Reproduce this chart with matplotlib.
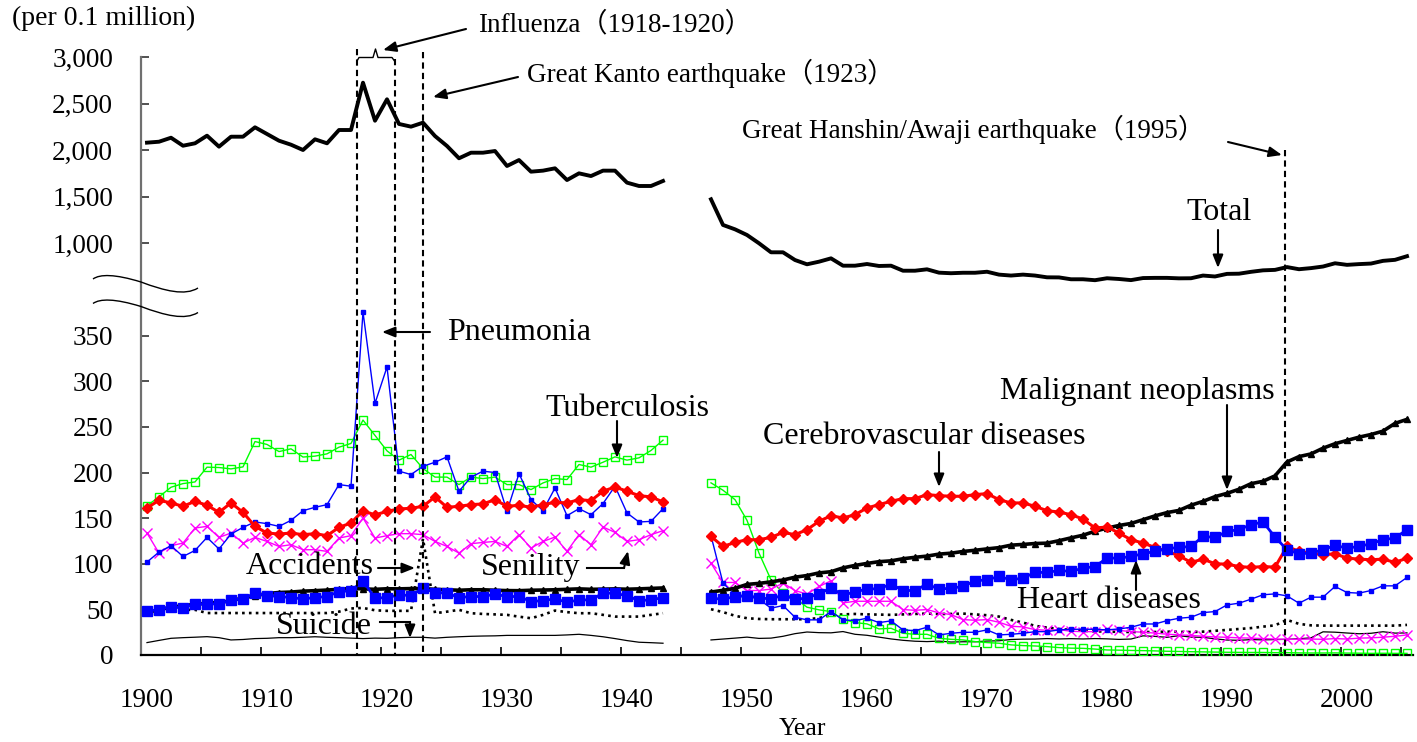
import numpy as np
import matplotlib
matplotlib.use('Agg')
import matplotlib.pyplot as plt
from matplotlib.lines import Line2D
from matplotlib.patches import FancyArrowPatch, PathPatch
from matplotlib.path import Path
from matplotlib import transforms

plt.rcParams['font.family'] = ['Liberation Serif', 'Noto Sans CJK JP']

# ---- data (per 100,000) ----
years_pre = list(range(1900, 1944))
years_post = list(range(1947, 2006))

total_pre = [2079, 2089, 2132, 2046, 2072, 2154, 2036, 2143, 2143, 2244,
             2172, 2100, 2057, 2000, 2115, 2072, 2215, 2215, 2724, 2315,
             2545, 2280, 2251, 2294, 2150, 2043, 1911, 1971, 1971, 1989,
             1828, 1892, 1767, 1778, 1803, 1677, 1749, 1720, 1778, 1778,
             1649, 1613, 1613, 1667]
total_post = [1470, 1194, 1147, 1086, 997, 900, 900, 817, 771, 799,
              835, 756, 756, 774, 753, 756, 702, 702, 717, 681,
              675, 680, 680, 691, 660, 650, 660, 650, 631, 630,
              610, 610, 600, 621, 613, 601, 623, 625, 625, 620,
              621, 650, 640, 668, 670, 690, 706, 711, 741, 718,
              730, 747, 782, 765, 773, 779, 808, 819, 858]

pneumonia_pre = [101.9, 112.8, 119.8, 108, 114.6, 128.9, 116.2, 132.6, 139.9, 145.8,
                 144, 141, 147.6, 158.2, 161.9, 164.8, 186.8, 185, 376, 275.8,
                 315.7, 201.5, 197.8, 206.9, 211.3, 217.2, 179.5, 195, 201.5, 200,
                 157.5, 198.9, 170.3, 158.2, 183.1, 152.7, 160.4, 153.8, 166, 185,
                 155.7, 145.8, 146.5, 160.4]
pneumonia_post = [130.8, 78.8, 66, 64.8, 61.1, 51.3, 54.2, 41.4, 38.5, 38.5,
                  47.6, 38.5, 37.7, 40.3, 35.5, 37.4, 27.5, 26.7, 30.4, 22,
                  23.8, 24.9, 24.9, 27.5, 22, 22.7, 23.8, 25.6, 25.6, 27.5,
                  28.2, 28.2, 28.2, 27.5, 28.6, 30.4, 34, 34, 37.7, 40.3,
                  41.4, 46.5, 47.6, 54.9, 56.8, 61.2, 66, 67, 64.8, 56.8,
                  63.4, 63.4, 75.1, 68.5, 67.8, 70.7, 75.8, 75.8, 85]

tb_pre = [163.7, 173.3, 183.9, 187.9, 189.7, 205.9, 205.5, 204, 206.2, 234,
          230.8, 223, 226, 217, 218, 220.5, 227.8, 231.9, 257.5, 240.7,
          223.8, 213.6, 219.8, 204.4, 195, 195, 186.8, 195, 193.4, 195,
          186.8, 186.8, 181.3, 188.6, 193.4, 192.3, 208.8, 205.9, 211.3, 217.2,
          213.6, 216.1, 224.2, 235.5]
tb_post = [188.7, 180.6, 170.3, 147.6, 111.7, 82.4, 67.8, 62.3, 52.4, 49.5,
           47.6, 39.2, 35.5, 34.1, 28.6, 29.3, 23.8, 22.7, 22.7, 18.3,
           17.2, 16.5, 14.7, 13.6, 12.9, 11.1, 10.3, 9.9, 9.2, 8.1,
           7.5, 7.3, 6.5, 5.5, 5.3, 5.0, 4.8, 4.5, 4.1, 3.9,
           3.6, 3.4, 3.2, 3.0, 2.9, 2.8, 2.8, 2.6, 2.6, 2.3,
           2.2, 2.2, 2.3, 2.1, 2.0, 1.8, 1.9, 1.8, 1.8]

cerebro_pre = [161.2, 169.6, 166.7, 163, 168.5, 164.1, 156.4, 166.7, 156.4, 141,
               133.7, 132.6, 133.7, 131.9, 133, 130.8, 139.9, 144.7, 158.2, 153.5,
               157.5, 160.1, 160.8, 163, 173.3, 161.9, 163, 164.8, 165.6, 170.3,
               163, 164.1, 161.9, 164.8, 167.4, 166.7, 170.3, 169.2, 179.5, 184.2,
               179.5, 174.7, 173.3, 167.8]
cerebro_post = [130, 119, 123.4, 126.4, 126.4, 128.9, 134.4, 131.9, 137.4, 146.5,
                152.7, 150.2, 153.8, 161.2, 164.8, 168.5, 171.4, 171.4, 175.8, 174.7,
                174, 174, 175.8, 176.9, 170.3, 166.7, 166.7, 163, 158.2, 156.7,
                153.8, 149.1, 139.2, 140.3, 133.7, 126.4, 122.7, 117.9, 113.6, 108.8,
                101.5, 105.1, 100, 99.6, 97, 96, 97, 96.3, 119, 113.6,
                111.7, 109.9, 111, 106.2, 105.1, 104.4, 105.1, 101.5, 106.2]

senility_pre = [133.7, 111.7, 119.8, 122.7, 139.2, 141, 128.9, 133.7, 122.7, 128.9,
                124.5, 119, 120.9, 115.4, 115.4, 113.6, 128.2, 130.8, 150.2, 128.2,
                130.8, 133, 133, 131.9, 124.5, 119, 111.7, 122, 123.4, 124.5,
                119, 131.9, 117.2, 124.5, 129.3, 113.6, 131.9, 120.9, 140.3, 134.4,
                124.5, 126.4, 131.9, 136.3]
senility_post = [100.7, 79.5, 79.5, 70.7, 70.7, 72.2, 78.8, 70.7, 66.7, 75.1,
                 81.3, 57.1, 58.9, 58.9, 58.9, 58.9, 49.8, 49, 49.8, 46.2,
                 44.3, 38.8, 38.1, 38.8, 35.9, 31.5, 30.8, 27.8, 27.1, 27.8,
                 26, 25.6, 25.6, 28.2, 27, 25.6, 25, 24, 22.8, 22,
                 21.5, 20.5, 19.8, 19.4, 18.8, 18.5, 18, 17.5, 17.2, 17.2,
                 17.5, 17.2, 18, 17.5, 18.5, 18.8, 19.5, 20.5, 22]

cancer_pre = [46.8, 49.5, 52.5, 54, 55.5, 56.8, 57.5, 59.5, 62.5, 65,
              67.4, 68.5, 69, 70, 70.5, 71.2, 72, 73, 72.5, 72,
              72.6, 72.5, 72.8, 72.8, 72, 71.5, 71, 71.5, 71.5, 71,
              70.6, 70.5, 71, 71.2, 71.5, 72, 72.5, 72, 72.2, 72.5,
              72.1, 72.5, 73, 73.5]
cancer_post = [69.0, 70.9, 73.1, 77.4, 78.5, 80.2, 82.2, 85.3, 87.1, 90.0,
               91.3, 95.5, 98.2, 100.4, 102.3, 103.2, 105.5, 107.1, 108.4, 110.6,
               111.6, 113.5, 114.8, 116.3, 117.7, 120.4, 121.2, 122.2, 122.6, 125.3,
               128.4, 131.3, 135.7, 139.1, 142.0, 144.2, 148.3, 152.5, 156.1, 158.5,
               164.2, 168.4, 173.6, 177.2, 181.7, 187.8, 190.4, 196.4, 211.6, 217.5,
               220.4, 226.7, 231.6, 235.2, 238.8, 241.7, 245.4, 253.9, 258.3]

heart_pre = [48.4, 49.5, 53.1, 51.3, 56, 56, 56, 60.4, 61.5, 67.8,
             65.2, 64.1, 63, 61.5, 63, 64.1, 69.6, 70.3, 81.3, 62.3,
             63, 65.9, 65.2, 73.3, 68.5, 67.8, 63, 64.1, 64.1, 66.7,
             64.1, 64.1, 58.6, 59.7, 61.5, 57.9, 60.4, 60.4, 67.8, 67.8,
             64.8, 59.7, 60.4, 63]
heart_post = [62.3, 61.1, 64.1, 64.8, 63, 61.1, 65.9, 61.1, 62.3, 67.4,
              73.3, 65.9, 68.9, 72.5, 72.5, 77.7, 70.7, 70.7, 77.7, 72.2,
              73.3, 75.1, 81.3, 82.4, 86.1, 82.4, 84.3, 90.5, 90.5, 92.7,
              91.6, 95.2, 97, 106.2, 106.2, 108, 111, 113.6, 116.5, 117.9,
              119, 130, 128.9, 135.5, 137.4, 142.9, 145.8, 129.3, 115.4, 111,
              111.7, 115.4, 120.1, 117.2, 119, 122, 126.4, 128.2, 137.4]

accident_pre = [44, 45, 49, 49.5, 49.5, 46, 46, 46, 46, 46,
                46, 46, 46, 46, 46, 46, 47.5, 51, 51.6, 49,
                48.4, 48.4, 48.4, 127.5, 45.8, 47.5, 49.5, 45.8, 45, 44.5,
                44, 42, 40.3, 44, 48.7, 47, 45.8, 45.8, 44, 42.1,
                42.1, 42.1, 44, 45.8]
accident_post = [50.2, 47, 43, 40.3, 39.5, 39.2, 39.2, 39.2, 39.2, 40.5,
                 43.6, 44.5, 45, 44.5, 44.3, 44, 44.5, 45, 45.4, 45,
                 45, 45.4, 44.5, 43.6, 42.1, 38.5, 35.5, 32, 30, 28.5,
                 27.5, 26.5, 26, 25.6, 25.4, 25.2, 25.2, 25.2, 25.6, 25.4,
                 25.2, 25.6, 26.5, 27.5, 28.5, 29.5, 31.1, 32.5, 38.5, 34.1,
                 32.5, 32.2, 32.2, 32.2, 32.2, 32.2, 32.2, 32.2, 33]

suicide_pre = [13.6, 16, 18.3, 19, 19.5, 20.1, 19, 16.5, 17, 18,
               18.3, 19, 19, 19.4, 20, 19.4, 19, 18.5, 18, 18.5,
               18.3, 19, 19.4, 19.4, 18.5, 19.4, 20, 20.5, 20.8, 21,
               21.5, 21.5, 21.5, 21.5, 21.5, 22, 22.7, 21.5, 20, 18,
               15.8, 14, 13.5, 12.9]
suicide_post = [16.5, 17.5, 18.5, 19.6, 18.2, 18.5, 20.5, 23.4, 25.2, 24.5,
                24.3, 25.7, 22.7, 21.6, 19.6, 17.6, 16.1, 15.1, 14.7, 15.2,
                14.2, 14.5, 14.5, 15.3, 15.6, 17.0, 17.4, 17.5, 18.0, 17.6,
                17.9, 17.6, 18.0, 17.7, 17.1, 17.5, 21.0, 20.4, 19.4, 21.2,
                19.6, 19.4, 17.7, 16.4, 16.1, 16.9, 16.6, 16.9, 17.2, 17.8,
                18.8, 25.4, 25.0, 24.1, 23.3, 23.8, 25.5, 24.0, 24.2]

top_ticks = [1000, 1500, 2000, 2500, 3000]
bottom_ticks = [0, 50, 100, 150, 200, 250, 300, 350]
year_labels = list(range(1900, 2001, 10))

# ---- figure layout (pixel based) ----
W, H = 1417, 742
fig = plt.figure(figsize=(W / 100, H / 100), dpi=100)


def fx(x):
    return x / W


def fy(y):
    return 1 - y / H


left, right = 141, 1413
ax_top = fig.add_axes([fx(left), fy(306), (right - left) / W, (306 - 57) / H])
ax_bot = fig.add_axes([fx(left), fy(655), (right - left) / W, (655 - 306) / H])

for ax in (ax_top, ax_bot):
    ax.set_xlim(1899.5, 2005.5)
    ax.patch.set_alpha(0)
    for s in ('top', 'right'):
        ax.spines[s].set_visible(False)
    ax.spines['left'].set_color('#707070')
    ax.spines['left'].set_linewidth(1.6)
    ax.tick_params(axis='y', direction='in', length=6, width=1.2,
                   pad=20, labelsize=19.5, color='#333333')

ax_top.set_ylim(3000 - 249 / 0.093, 3000)
ax_top.spines['bottom'].set_visible(False)
ax_top.xaxis.set_visible(False)
ax_top.set_yticks(top_ticks)
ax_top.set_yticklabels([f'{v:,}' for v in top_ticks])

ax_bot.set_ylim(0, (654.9 - 306) / 0.912)
ax_bot.set_yticks(bottom_ticks)
ax_bot.spines['bottom'].set_linewidth(1.6)
ax_bot.set_xticks(year_labels)
ax_bot.set_xticklabels([str(y) for y in year_labels])
ax_bot.set_xticks(np.arange(1899.5, 2005, 5), minor=True)
ax_bot.tick_params(axis='x', which='major', length=0, pad=24, labelsize=19.5)
ax_bot.tick_params(axis='x', which='minor', direction='in', length=6, width=1.2)

# ---- series ----
def draw(ax, pre, post, **kw):
    ax.plot(years_pre, pre, **kw)
    ax.plot(years_post, post, **kw)


draw(ax_top, total_pre, total_post, color='black', lw=2.8, zorder=5)

draw(ax_bot, suicide_pre, suicide_post, color='black', lw=0.9, zorder=2)
draw(ax_bot, accident_pre, accident_post, color='black', lw=1.9,
     ls=(0, (1.0, 1.6)), zorder=2)
draw(ax_bot, tb_pre, tb_post, color='#00FF00', lw=1.0, marker='s', ms=6,
     mfc='none', mec='#00FF00', mew=1.0, zorder=3)
draw(ax_bot, senility_pre, senility_post, color='#FF00FF', lw=1.0, marker='x',
     ms=6.5, mew=1.0, zorder=3)
draw(ax_bot, pneumonia_pre, pneumonia_post, color='#0000FF', lw=1.0, marker='s',
     ms=3.2, zorder=4)
draw(ax_bot, cancer_pre, cancer_post, color='black', lw=2.6, marker='^', ms=5,
     zorder=4)
draw(ax_bot, cerebro_pre, cerebro_post, color='#FF0000', lw=2.2, marker='D',
     ms=5, zorder=5)
draw(ax_bot, heart_pre, heart_post, color='#0000FF', lw=2.0, marker='s', ms=6.5,
     zorder=6)

# ---- event lines (influenza 1918-1920, Kanto 1923, Hanshin 1995) ----
blend = transforms.blended_transform_factory(ax_bot.transData, fig.transFigure)
event_x = [1917.5, 1920.67, 1923.0, 1994.83]
event_top = [49, 59, 52, 150]
for x, t in zip(event_x, event_top):
    fig.add_artist(Line2D([x, x], [fy(t), fy(655)], transform=blend, color='black',
                          lw=1.5, ls=(0, (3, 2)), zorder=10))

# brace over the influenza years
brace = [(357, 61), (359, 57.5), (373, 57.5), (375.5, 49), (378, 57.5),
         (392, 57.5), (394.5, 61)]
fig.add_artist(Line2D([fx(p[0]) for p in brace], [fy(p[1]) for p in brace],
                      transform=fig.transFigure, color='black', lw=1.0))

# axis break marks
for dy in (0, 24.5):
    verts = [(93, 279 + dy), (100, 274 + dy), (115, 274 + dy), (141, 282 + dy),
             (165, 291 + dy), (185, 296 + dy), (198, 288 + dy)]
    codes = [Path.MOVETO] + [Path.CURVE4] * 6
    path = Path([(fx(a), fy(b)) for a, b in verts], codes)
    fig.add_artist(PathPatch(path, transform=fig.transFigure, fill=False,
                             lw=1.0, edgecolor='black'))


# ---- labels and arrows ----
def arrow(x0, y0, x1, y1):
    fig.add_artist(FancyArrowPatch((fx(x0), fy(y0)), (fx(x1), fy(y1)),
                                   transform=fig.transFigure,
                                   arrowstyle='-|>,head_length=0.55,head_width=0.22',
                                   mutation_scale=14, lw=1.5, color='black',
                                   shrinkA=0, shrinkB=0, zorder=11))


def seg(x0, y0, x1, y1):
    fig.add_artist(Line2D([fx(x0), fx(x1)], [fy(y0), fy(y1)],
                          transform=fig.transFigure, color='black', lw=1.5))


def label(x, y, s, size=23, ha='left'):
    fig.text(fx(x), fy(y), s, ha=ha, va='center', fontsize=size, zorder=12)


label(12, 18, '(per 0.1 million)', size=20)
label(478, 25, 'Influenza（1918-1920）', size=19.5)
arrow(466, 29, 383, 50)
label(527, 73, 'Great Kanto earthquake（1923）', size=19.5)
arrow(518, 77, 433, 97)
label(742, 129, 'Great Hanshin/Awaji earthquake（1995）', size=19.5)
arrow(1228, 142, 1282, 155)

label(1219, 213, 'Total', ha='center')
arrow(1218, 230, 1218, 268)
label(447, 332, 'Pneumonia')
arrow(430, 332, 382, 332)
label(545, 408, 'Tuberculosis')
arrow(617, 421, 617, 458)
label(763, 437, 'Cerebrovascular diseases')
arrow(939, 452, 939, 487)
label(1000, 392, 'Malignant neoplasms')
arrow(1227, 405, 1227, 490)
label(246, 566, 'Accidents')
arrow(378, 568, 415, 568)
label(481, 567, 'Senility')
seg(587, 568, 624, 568)
arrow(624, 568, 628, 551)
label(276, 626, 'Suicide')
seg(380, 622, 410, 622)
arrow(410, 622, 410, 638)
label(1017, 600, 'Heart diseases')
arrow(1136, 590, 1136, 560)

fig.text(fx(802), fy(729), 'Year', ha='center', va='center', fontsize=18.5)

fig.savefig('out.png', dpi=100)
